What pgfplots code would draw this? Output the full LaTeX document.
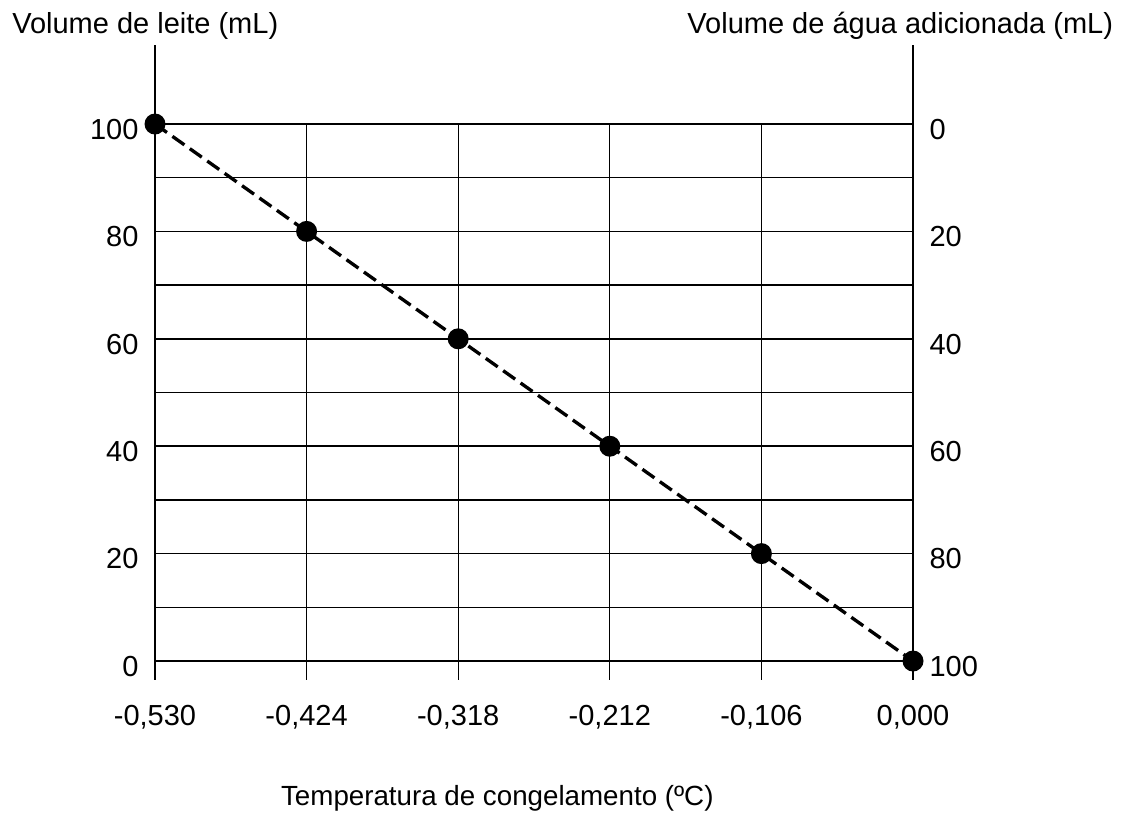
\documentclass[border=0pt]{standalone}
\usepackage{pgfplots}
\pgfplotsset{compat=1.18}
\usepackage{fontspec}
\setmainfont{Liberation Sans}

\begin{document}
\fontsize{21.75pt}{26pt}\selectfont
\begin{tikzpicture}
% page frame, in reference pixels (1 px = 0.75pt)
\useasboundingbox (0,0) rectangle (842.25pt,-610.5pt);

\begin{axis}[
    at={(116.25pt,-509.85pt)}, anchor=south west,
    scale only axis, width=568.5pt, height=476.05pt,
    xmin=-0.53, xmax=0, ymin=-3.5, ymax=114.7,
    axis y line*=left, axis x line*=bottom,
    x axis line style={draw=none},
    y axis line style={line width=1.5pt},
    major tick length=0pt,
    xtick={-0.53,-0.424,-0.318,-0.212,-0.106,0},
    xticklabels={{-0,530},{-0,424},{-0,318},{-0,212},{-0,106},{0,000}},
    ytick={0,10,...,100},
    yticklabels={0,,20,,40,,60,,80,,100},
    xticklabel style={yshift=-12pt},
    yticklabel style={xshift=-5pt, yshift=-4pt},
    ymajorgrids, grid style={black, line width=1.1pt},
    clip=false,
]
\pgfplotsinvokeforeach{-0.424,-0.318,-0.212,-0.106}{
  \draw[black, line width=0.8pt] (axis cs:#1,-3.5) -- (axis cs:#1,100);
}
\addplot[black, line width=2.5pt, dash pattern=on 11pt off 5pt,
    mark=*, mark size=6.6pt, mark options={solid}]
  coordinates {(-0.530,100) (-0.424,80) (-0.318,60) (-0.212,40) (-0.106,20) (0,0)};
\end{axis}

\begin{axis}[
    at={(116.25pt,-509.85pt)}, anchor=south west,
    scale only axis, width=568.5pt, height=476.05pt,
    xmin=-0.53, xmax=0, ymin=-3.5, ymax=114.7,
    axis y line*=right, axis x line=none,
    y axis line style={line width=1.1pt},
    major tick length=0pt,
    ytick={0,20,...,100},
    yticklabels={100,80,60,40,20,0},
    yticklabel style={xshift=5pt, yshift=-4pt},
]
\end{axis}

\node[anchor=base west, inner sep=0pt] at (9pt,-25pt) {Volume de leite (mL)};
\node[anchor=base east, inner sep=0pt] at (835pt,-25pt) {Volume de água adicionada (mL)};
\node[anchor=base, inner sep=0pt] at (373pt,-604pt)
  {\fontsize{20.8pt}{25pt}\selectfont Temperatura de congelamento (ºC)};
\end{tikzpicture}
\end{document}
